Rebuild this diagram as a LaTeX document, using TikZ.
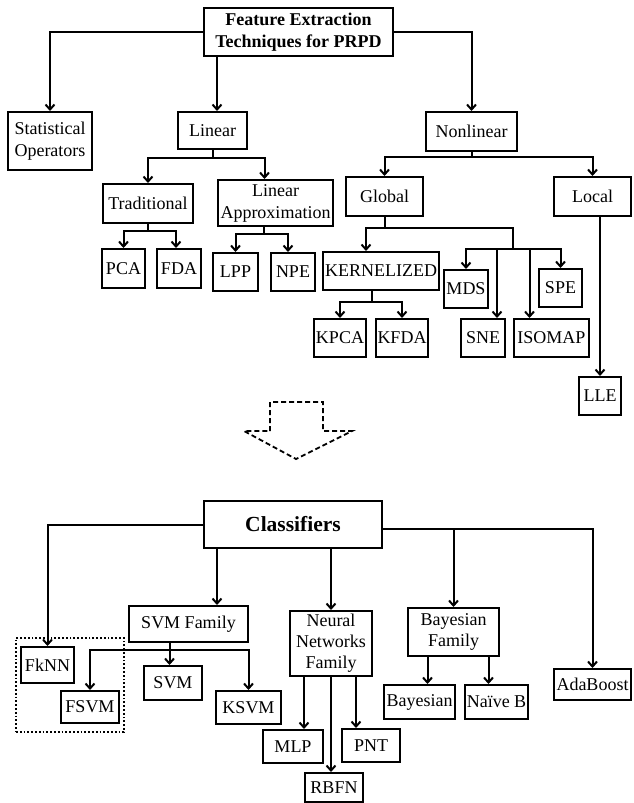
\documentclass[tikz,border=0pt]{standalone}
\usepackage{fontspec}
\setmainfont{Liberation Serif}
\usetikzlibrary{arrows.meta, fit}
\begin{document}
\begin{tikzpicture}[
    x=1pt, y=-1pt,
    box/.style n args={2}{rectangle, draw, line width=2pt, inner sep=0pt, minimum width=#1, minimum height=#2, align=center, font=\fontsize{18}{22}\selectfont},
    head/.style={font=\fontsize{18}{22}\selectfont\bfseries},
    arr/.style={-{Straight Barb[length=5pt,width=9pt]}, line width=2pt},
    link/.style={line width=2pt}
]
    \useasboundingbox (0,0) rectangle (633,803);
    % feature extraction tree
    \node[box={189pt}{48pt}, head] (root) at (298.5, 32) {Feature Extraction\\Techniques for PRPD};
    \node[box={84pt}{58pt}]  (stat)   at (50, 141)    {Statistical\\Operators};
    \node[box={69pt}{37pt}]  (lin)    at (212.5, 130.5) {Linear};
    \node[box={91pt}{39pt}]  (nonlin) at (471.5, 131.5) {Nonlinear};
    \node[box={90pt}{39pt}]  (trad)   at (148, 203.5) {Traditional};
    \node[box={115pt}{46pt}] (linapp) at (275.5, 203) {Linear\\Approximation};
    \node[box={77pt}{39pt}]  (glob)   at (384.5, 196.5) {Global};
    \node[box={77pt}{39pt}]  (local)  at (592.5, 196.5) {Local};
    \node[box={43pt}{39pt}]  (pca)    at (123.5, 268.5) {PCA};
    \node[box={44pt}{39pt}]  (fda)    at (179, 268.5) {FDA};
    \node[box={45pt}{38pt}]  (lpp)    at (235.5, 272) {LPP};
    \node[box={44pt}{38pt}]  (npe)    at (293, 272) {NPE};
    \node[box={116pt}{38pt}] (kern)   at (381, 271) {KERNELIZED};
    \node[box={44pt}{38pt}]  (mds)    at (466, 289) {MDS};
    \node[box={43pt}{38pt}]  (spe)    at (560.5, 288) {SPE};
    \node[box={52pt}{38pt}]  (kpca)   at (340, 338) {KPCA};
    \node[box={52pt}{38pt}]  (kfda)   at (402, 338) {KFDA};
    \node[box={44pt}{38pt}]  (sne)    at (483, 338) {SNE};
    \node[box={75pt}{38pt}]  (isomap) at (551.5, 338) {ISOMAP};
    \node[box={42pt}{38pt}]  (lle)    at (600, 396) {LLE};
    \coordinate (gsplit) at (513, 249);

    \draw[arr] (root.west) -| (stat.north);
    \draw[arr] ([shift={(14,0)}]root.south west) -- ([shift={(14,0)}]root.south west |- lin.north);
    \draw[arr] (root.east) -| (nonlin.north);
    \draw[arr] (lin.south) -- ++(0,8) -| (trad.north);
    \draw[arr] (lin.south) -- ++(0,8) -| ([shift={(-11,0)}]linapp.north);
    \draw[arr] (nonlin.south) -- ++(0,5) -| (glob.north);
    \draw[arr] (nonlin.south) -- ++(0,5) -| (local.north);
    \draw[arr] (trad.south) -- ++(0,7) -| (pca.north);
    \draw[arr] (trad.south) -- ++(0,7) -| ([shift={(-3,0)}]fda.north);
    \draw[arr] ([shift={(-12,0)}]linapp.south) -- ++(0,7) -| (lpp.north);
    \draw[arr] ([shift={(-12,0)}]linapp.south) -- ++(0,7) -| ([shift={(-5,0)}]npe.north);
    \draw[arr] (glob.south) -- ++(0,11) -| ([shift={(-15,0)}]kern.north);
    \draw[link] (glob.south) -- ++(0,11) -| (gsplit);
    \draw[arr] (gsplit) -| (mds.north);
    \draw[arr] (gsplit) -| (spe.north);
    \draw[arr] ([shift={(14,0)}]sne.north |- gsplit) -- ([shift={(14,0)}]sne.north);
    \draw[arr] ([shift={(-22,0)}]isomap.north |- gsplit) -- ([shift={(-22,0)}]isomap.north);
    \draw[arr] ([shift={(-9,0)}]kern.south) -- ++(0,11) -| (kpca.north);
    \draw[arr] ([shift={(-9,0)}]kern.south) -- ++(0,11) -| (kfda.north);
    \draw[arr] (local.south -| lle.north) -- (lle.north);

    % hollow dashed arrow
    \draw[dash pattern=on 5pt off 3pt, line width=1.8pt] (270,431) -- (270,402) -- (323,402) -- (323,431) -- (352,431) -- (296,459) -- (244,431) -- cycle;

    % classifier tree
    \node[box={178pt}{47pt}, font=\fontsize{21.5}{26}\selectfont\bfseries] (cls) at (293, 524.5) {Classifiers};
    \node[box={119pt}{36pt}] (svmf)  at (188.5, 624) {SVM Family};
    \node[box={53pt}{36pt}]  (fknn)  at (47.5, 665) {FkNN};
    \node[box={58pt}{32pt}]  (fsvm)  at (90, 707) {FSVM};
    \node[box={58pt}{34pt}]  (svm)   at (173, 683) {SVM};
    \node[box={65pt}{33pt}]  (ksvm)  at (248.5, 707.5) {KSVM};
    \node[box={82pt}{65pt}, font=\fontsize{18}{21}\selectfont] (nn) at (331, 643.5) {Neural\\Networks\\Family};
    \node[box={60pt}{33pt}]  (mlp)   at (293, 746.5) {MLP};
    \node[box={58pt}{29pt}]  (rbfn)  at (334, 787.5) {RBFN};
    \node[box={58pt}{33pt}]  (pnt)   at (371, 745.5) {PNT};
    \node[box={91pt}{48pt}, font=\fontsize{18}{21}\selectfont] (bayf) at (453.5, 632) {Bayesian\\Family};
    \node[box={71pt}{34pt}]  (bayes) at (419.5, 702) {Bayesian};
    \node[box={63pt}{34pt}]  (naive) at (496.5, 702) {Naïve B};
    \node[box={77pt}{31pt}]  (ada)   at (592.5, 684.5) {AdaBoost};
    \node[draw, dotted, line width=1.8pt, inner xsep=4pt, inner ysep=8pt, fit=(fknn)(fsvm)] (fuzzy) {};

    \draw[arr] (cls.west) -| (fknn.north);
    \draw[arr] ([shift={(14,0)}]cls.south west) -- ([shift={(14,0)}]cls.south west |- svmf.north);
    \draw[arr] ([shift={(-19,0)}]svmf.south) -- ++(0,7) -| (fsvm.north);
    \draw[arr] ([shift={(-19,0)}]svmf.south) -- ++(0,7) -| (ksvm.north);
    \draw[arr] ([shift={(-19,0)}]svmf.south) -- ([shift={(-19,0)}]svmf.south |- svm.north);
    \draw[arr] (nn.north |- cls.south) -- (nn.north);
    \draw[arr] ([shift={(11,0)}]mlp.north |- nn.south) -- ([shift={(11,0)}]mlp.north);
    \draw[arr] (nn.south) -- (nn.south |- rbfn.north);
    \draw[arr] ([shift={(-15,0)}]pnt.north |- nn.south) -- ([shift={(-15,0)}]pnt.north);
    \draw[arr] ([shift={(0,4)}]cls.east) -| (ada.north);
    \draw[arr] ([shift={(0,4)}]cls.east -| bayf.north) -- (bayf.north);
    \draw[arr] ([shift={(8,0)}]bayes.north |- bayf.south) -- ([shift={(8,0)}]bayes.north);
    \draw[arr] ([shift={(-8,0)}]naive.north |- bayf.south) -- ([shift={(-8,0)}]naive.north);
\end{tikzpicture}
\end{document}
